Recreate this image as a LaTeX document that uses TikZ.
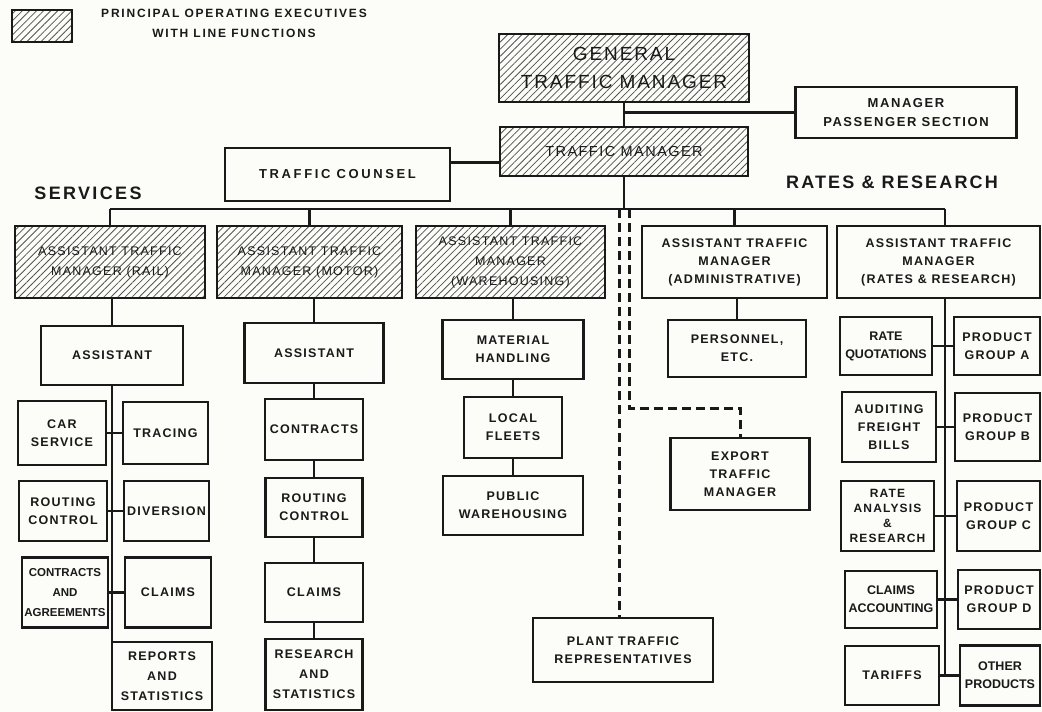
\documentclass[tikz,border=0pt]{standalone}
\usepackage{fontspec}
\setmainfont{Liberation Sans}
\newfontfamily\boxfont[LetterSpace=10]{Liberation Sans}
\newfontfamily\tightfont{Liberation Sans}
\newfontfamily\headfont[LetterSpace=12]{Liberation Sans}
\newfontfamily\legfont[LetterSpace=15]{Liberation Sans}
\usetikzlibrary{patterns.meta}
\definecolor{paper}{RGB}{252,252,248}
\definecolor{ink}{RGB}{25,25,25}

\begin{document}
\begin{tikzpicture}[x=1pt,y=-1pt,
    box/.style={draw=ink,line width=2.2pt,inner sep=0pt,align=center,text=ink,
      font=\boxfont\bfseries\fontsize{12.5}{18}\selectfont},
    hbox/.style={box,pattern={Lines[angle=45,distance=5pt,line width=0.8pt]},pattern color=ink!75,
      font=\boxfont\fontsize{12.5}{20}\selectfont},
    tight/.style={font=\tightfont\bfseries\fontsize{12.5}{18}\selectfont},
    sz/.style 2 args={minimum width=#1pt,minimum height=#2pt},
    con/.style={draw=ink,line width=2.6pt},
    dashline/.style={draw=ink,line width=3pt,dash pattern=on 9pt off 5pt}]
    \fill[paper] (0,0) rectangle (1042,712);
    \useasboundingbox (0,0) rectangle (1042,712);

    % key and headings
    \node[hbox,sz={60}{32}] (key) at (42,26) {};
    \node[text=ink,align=center,font=\legfont\bfseries\fontsize{12}{20}\selectfont] (keytext) at (234,23) {PRINCIPAL OPERATING EXECUTIVES\\WITH LINE FUNCTIONS};
    \node[text=ink,font=\headfont\bfseries\fontsize{18}{20}\selectfont\addfontfeature{LetterSpace=13}] (services) at (88,193) {SERVICES};
    \node[text=ink,font=\headfont\bfseries\fontsize{18}{20}\selectfont] (rateshead) at (892,182) {RATES \& RESEARCH};

    % top of the chart
    \node[hbox,sz={250}{68},font=\boxfont\fontsize{19}{28}\selectfont] (gtm) at (624,68) {GENERAL\\TRAFFIC MANAGER};
    \node[box,sz={221}{51},font=\boxfont\bfseries\fontsize{13}{19}\selectfont\addfontfeature{LetterSpace=12}] (passenger) at (906,112.5) {MANAGER\\PASSENGER SECTION};
    \node[hbox,sz={248}{49},font=\boxfont\fontsize{14.5}{18}\selectfont] (tm) at (624,151.5) {TRAFFIC MANAGER};
    \node[box,sz={225}{53},font=\boxfont\bfseries\fontsize{13}{18}\selectfont\addfontfeature{LetterSpace=20}] (counsel) at (337.5,174.5) {TRAFFIC COUNSEL};

    % assistant traffic managers
    \node[hbox,sz={190}{72}] (atmrail) at (110,262) {ASSISTANT TRAFFIC\\MANAGER (RAIL)};
    \node[hbox,sz={185}{72}] (atmmotor) at (309.5,262) {ASSISTANT TRAFFIC\\MANAGER (MOTOR)};
    \node[hbox,sz={189}{72}] (atmware) at (510.5,262) {ASSISTANT TRAFFIC\\MANAGER\\(WAREHOUSING)};
    \node[box,sz={185}{72}] (atmadmin) at (734.5,262) {ASSISTANT TRAFFIC\\MANAGER\\(ADMINISTRATIVE)};
    \node[box,sz={203}{72}] (atmrates) at (938.5,262) {ASSISTANT TRAFFIC\\MANAGER\\(RATES \& RESEARCH)};

    % rail
    \node[box,sz={142}{59}] (asstrail) at (112,355.5) {ASSISTANT};
    \node[box,sz={88}{64}] (carsvc) at (62,433) {CAR\\SERVICE};
    \node[box,sz={85}{62}] (tracing) at (165.5,433) {TRACING};
    \node[box,sz={88}{60}] (routerail) at (63,511) {ROUTING\\CONTROL};
    \node[box,sz={85}{60}] (diversion) at (166.5,511) {DIVERSION};
    \node[box,sz={86}{70},font=\tightfont\bfseries\fontsize{11.5}{20}\selectfont] (contrrail) at (65,592.5) {CONTRACTS\\AND\\AGREEMENTS};
    \node[box,sz={86}{70}] (claimsrail) at (168,592.5) {CLAIMS};
    \node[box,sz={100}{68},font=\boxfont\bfseries\fontsize{12.5}{20}\selectfont] (reports) at (162,676) {REPORTS\\AND\\STATISTICS};

    % motor
    \node[box,sz={139}{60}] (asstmotor) at (314,353) {ASSISTANT};
    \node[box,sz={98}{61}] (contrmotor) at (314,429.5) {CONTRACTS};
    \node[box,sz={97}{59}] (routemotor) at (314,507.5) {ROUTING\\CONTROL};
    \node[box,sz={98}{59}] (claimsmotor) at (314,592.5) {CLAIMS};
    \node[box,sz={97}{71},font=\boxfont\bfseries\fontsize{12.5}{20}\selectfont] (research) at (314,674.5) {RESEARCH\\AND\\STATISTICS};

    % warehousing
    \node[box,sz={141}{59}] (material) at (513,349.5) {MATERIAL\\HANDLING};
    \node[box,sz={98}{61}] (fleets) at (513,427.5) {LOCAL\\FLEETS};
    \node[box,sz={140}{59}] (pubware) at (513,505.5) {PUBLIC\\WAREHOUSING};

    % administrative
    \node[box,sz={138}{57}] (personnel) at (737,348.5) {PERSONNEL,\\ETC.};
    \node[box,sz={139}{72}] (export) at (740,474) {EXPORT\\TRAFFIC\\MANAGER};
    \node[box,sz={180}{64}] (plant) at (623,650) {PLANT TRAFFIC\\REPRESENTATIVES};

    % rates and research
    \node[box,sz={92}{58},tight] (quotes) at (886,346) {RATE\\QUOTATIONS};
    \node[box,sz={86}{58}] (groupa) at (997,346) {PRODUCT\\GROUP A};
    \node[box,sz={94}{70}] (auditing) at (889,427) {AUDITING\\FREIGHT\\BILLS};
    \node[box,sz={85}{68}] (groupb) at (997.5,427) {PRODUCT\\GROUP B};
    \node[box,sz={93}{70},font=\boxfont\bfseries\fontsize{12}{15}\selectfont] (analysis) at (887.5,516) {RATE\\ANALYSIS\\\&\\RESEARCH};
    \node[box,sz={83}{70}] (groupc) at (998.5,516) {PRODUCT\\GROUP C};
    \node[box,sz={92}{57},tight] (claimsacc) at (891,599.5) {CLAIMS\\ACCOUNTING};
    \node[box,sz={82}{59}] (groupd) at (999,599.5) {PRODUCT\\GROUP D};
    \node[box,sz={94}{59}] (tariffs) at (892,675.5) {TARIFFS};
    \node[box,sz={80}{60},tight] (others) at (1000,675.5) {OTHER\\PRODUCTS};

    % lines
    \coordinate (busl) at (110,209);
    \coordinate (busr) at (945,209);
    \coordinate (dsha) at (619,209);
    \coordinate (dshb) at (629,209);
    \coordinate (dshturn) at (629,408);
    \draw[con] (gtm) -- (tm);
    \draw[con] (passenger.west) -- (passenger.west -| gtm.south);
    \draw[con] (counsel.6) -- (counsel.6 -| tm.west);
    \draw[con] (tm.south) -- (tm.south |- busl);
    \draw[con] (busl) -- (busr);
    \draw[con] (atmrail.north) -- (atmrail.north |- busl);
    \draw[con] (atmmotor.north) -- (atmmotor.north |- busl);
    \draw[con] (atmware.north) -- (atmware.north |- busl);
    \draw[con] (atmadmin.north) -- (atmadmin.north |- busl);
    \draw[con] (busr) -- (busr |- atmrates.north);
    \draw[dashline] (dsha) -- (dsha |- plant.north);
    \draw[dashline] (dshb) -- (dshturn) -| (export.north);

    \draw[con] (asstrail.north) -- (asstrail.north |- atmrail.south);
    \draw[con] (asstrail.south) -- (asstrail.south |- reports.north);
    \draw[con] (carsvc) -- (tracing);
    \draw[con] (routerail) -- (diversion);
    \draw[con] (contrrail) -- (claimsrail);

    \draw[con] (asstmotor.north) -- (asstmotor.north |- atmmotor.south);
    \draw[con] (asstmotor) -- (contrmotor) -- (routemotor) -- (claimsmotor) -- (research);

    \draw[con] (material.north) -- (material.north |- atmware.south);
    \draw[con] (material) -- (fleets) -- (pubware);

    \draw[con] (personnel.north) -- (personnel.north |- atmadmin.south);

    \draw[con] (busr |- atmrates.south) -- (busr |- tariffs.east);
    \draw[con] (quotes) -- (groupa);
    \draw[con] (auditing) -- (groupb);
    \draw[con] (analysis) -- (groupc);
    \draw[con] (claimsacc) -- (groupd);
    \draw[con] (tariffs) -- (others);
\end{tikzpicture}
\end{document}
